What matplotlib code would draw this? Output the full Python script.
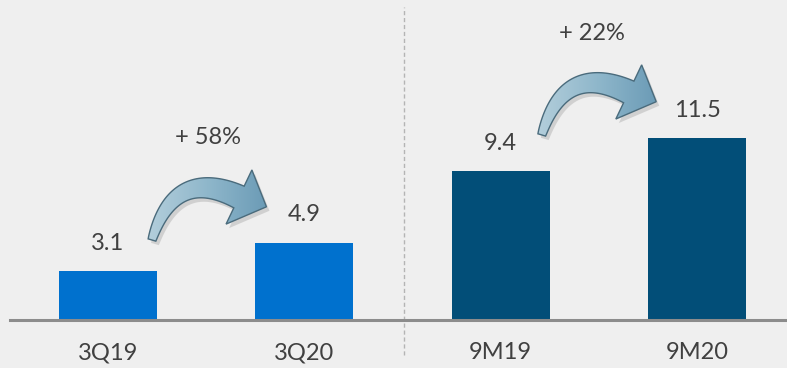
import numpy as np
import matplotlib.pyplot as plt
from matplotlib.patches import Polygon
from matplotlib.transforms import IdentityTransform

# Data
categories = ["3Q19", "3Q20", "9M19", "9M20"]
values = [3.1, 4.9, 9.4, 11.5]
value_labels = ["3.1", "4.9", "9.4", "11.5"]
growth_labels = ["+ 58%", "+ 22%"]

bar_colors = ["#0071ce", "#0071ce", "#024e78", "#024e78"]
text_color = "#404040"
bg = "#efefef"

plt.rcParams['font.family'] = ['Lato', 'DejaVu Sans']

fig = plt.figure(figsize=(7.87, 3.68), dpi=100, facecolor=bg)
ax = fig.add_axes([0, 0, 1, 1])
ax.set_facecolor(bg)
ax.set_xlim(-0.55, 3.458)
ax.set_ylim(-3.04, 20.25)
ax.axis("off")

x = list(range(len(categories)))
ax.bar(x, values, width=0.5, color=bar_colors, zorder=2)

# baseline and divider
ax.axhline(0, xmin=10 / 787, xmax=1, color="#8c8c8c", lw=2.2, zorder=3)
ax.plot([1.508, 1.508], [-2.2, 19.8], color="#b4b4b4", lw=1, ls=(0, (3, 2)), zorder=1)

# value labels and category labels
for xi, v, lab, cat in zip(x, values, value_labels, categories):
    ax.text(xi, v + 1.75, lab, ha="center", va="center", fontsize=17, color=text_color)
    ax.text(xi, -2.09, cat, ha="center", va="center", fontsize=17, color=text_color)


def curved_arrow(tail):
    # tapered curved arrow, built in pixels (y up) starting at the tail point
    ox, oy = ax.transData.transform(tail)
    p0 = np.array([0.0, 0.0])
    p1 = np.array([22.0, 74.0])
    p2 = np.array([87.0, 43.0])
    t = np.linspace(0, 1, 60)[:, None]
    pts = (1 - t) ** 2 * p0 + 2 * (1 - t) * t * p1 + t ** 2 * p2
    der = 2 * (1 - t) * (p1 - p0) + 2 * t * (p2 - p1)
    der = der / np.linalg.norm(der, axis=1)[:, None]
    nrm = np.column_stack([-der[:, 1], der[:, 0]])
    w = (8 + 16 * t[:, 0] ** 0.8) / 2
    left = pts + nrm * w[:, None]
    right = pts - nrm * w[:, None]
    d = der[-1]
    n = nrm[-1]
    top = p2 + 30 * n
    bot = p2 - 30 * n
    tip = p2 + 29 * d + 3 * n
    poly = np.vstack([left, top, tip, bot, right[::-1]])
    return poly + [ox, oy]


# growth arrows
tails = [(0.224, 5.06), (2.209, 11.71)]
label_pos = [(0.51, 11.52), (2.466, 18.1)]
grad = np.linspace(0, 1, 256)[None, :]
for tail, pos, txt in zip(tails, label_pos, growth_labels):
    poly = curved_arrow(tail)
    shadow = Polygon(poly + [3, -4], closed=True, transform=IdentityTransform(),
                     facecolor="#c4c4c4", edgecolor="none", alpha=0.7, zorder=3)
    ax.add_patch(shadow)
    body = Polygon(poly, closed=True, transform=IdentityTransform(),
                   facecolor="none", edgecolor="#4a6b7c", lw=1.0, zorder=5)
    ax.add_patch(body)
    inv = ax.transData.inverted()
    (x0, y0) = inv.transform(poly.min(axis=0))
    (x1, y1) = inv.transform(poly.max(axis=0))
    img = ax.imshow(grad, extent=[x0, x1, y0, y1], cmap=plt.matplotlib.colors.LinearSegmentedColormap.from_list(
        "arr", ["#b3cedb", "#8fb7cb", "#6b9bb6"]), aspect="auto", zorder=4)
    img.set_clip_path(body)
    ax.text(pos[0], pos[1], txt, ha="center", va="center", fontsize=17, color=text_color)

ax.set_xlim(-0.55, 3.458)
ax.set_ylim(-3.04, 20.25)
fig.savefig("out.png", dpi=100, facecolor=bg)
